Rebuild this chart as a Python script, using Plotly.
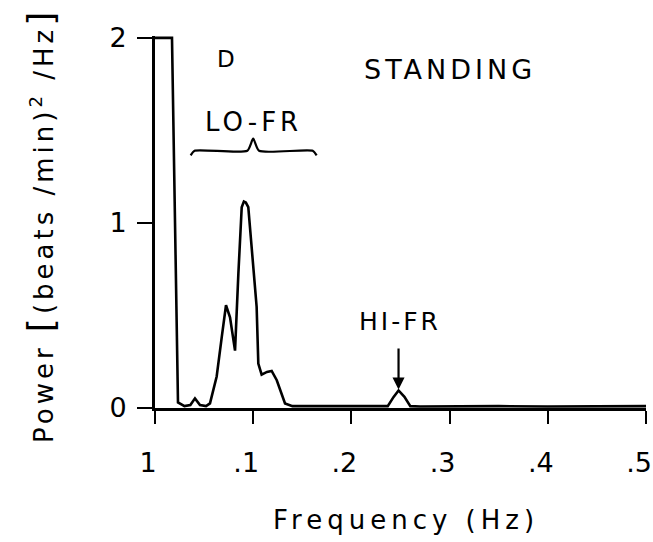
import plotly.graph_objects as go

# Spectrum (frequency in Hz, power in (beats/min)^2/Hz)
freq = [0.0, 0.0173, 0.0234, 0.030, 0.036, 0.0407, 0.0458, 0.052, 0.056, 0.0628,
        0.0679, 0.0723, 0.0764, 0.0815, 0.0849, 0.0883, 0.0905, 0.0925, 0.095,
        0.0984, 0.1035, 0.1052, 0.1086, 0.114, 0.1188, 0.124, 0.1324, 0.14, 0.17,
        0.20, 0.23, 0.237, 0.243, 0.248, 0.254, 0.26, 0.27, 0.30, 0.35, 0.40,
        0.45, 0.50]
power = [2.0, 2.0, 0.03, 0.01, 0.016, 0.052, 0.016, 0.01, 0.025, 0.17,
         0.38, 0.555, 0.49, 0.31, 0.726, 1.085, 1.115, 1.11, 1.085,
         0.85, 0.546, 0.24, 0.18, 0.195, 0.20, 0.15, 0.025, 0.01, 0.01,
         0.008, 0.01, 0.01, 0.06, 0.095, 0.06, 0.01, 0.008, 0.01, 0.01, 0.008,
         0.008, 0.01]

x_tickvals = [0, 0.1, 0.2, 0.3, 0.4, 0.5]
x_ticktext = ["1", ".1", ".2", ".3", ".4", ".5"]
y_tickvals = [0, 1, 2]
y_ticktext = ["0", "1", "2"]

# LO-FR band bracket
lo_left, lo_right, lo_mid = 0.0363, 0.1646, 0.100
brace_y, brace_tip, brace_end = 1.39, 1.455, 1.365

# HI-FR marker
hi_freq = 0.248
hi_label_y = 0.47
hi_arrow_top, hi_arrow_tip = 0.33, 0.10

FONT = "DejaVu Sans"
INK = "black"

fig = go.Figure()

fig.add_trace(go.Scatter(
    x=freq, y=power, mode="lines",
    line=dict(color=INK, width=2.6),
    hoverinfo="skip", showlegend=False,
))

bx = [lo_left, lo_left + 0.004, lo_mid - 0.006, lo_mid, lo_mid + 0.006,
      lo_right - 0.004, lo_right]
by = [brace_end, brace_y, brace_y, brace_tip, brace_y, brace_y, brace_end]
fig.add_trace(go.Scatter(
    x=bx, y=by, mode="lines",
    line=dict(color=INK, width=2.2, shape="spline", smoothing=0.6),
    hoverinfo="skip", showlegend=False,
))

def note(text, x, y, size):
    fig.add_annotation(x=x, y=y, xref="x", yref="y", text=text, showarrow=False,
                       font=dict(family=FONT, size=size, color=INK),
                       xanchor="center", yanchor="middle")

note("D", 0.072, 1.887, 23)
note('<span style="letter-spacing:4px">STANDING</span>', 0.300, 1.83, 27)
note('<span style="letter-spacing:4px">LO-FR</span>', lo_mid, 1.547, 26)
note('<span style="letter-spacing:3px">HI-FR</span>', hi_freq + 0.0015, hi_label_y, 25)

fig.add_annotation(x=hi_freq, y=hi_arrow_tip, ax=hi_freq, ay=hi_arrow_top,
                   xref="x", yref="y", axref="x", ayref="y", text="",
                   showarrow=True, arrowhead=2, arrowsize=1.1, arrowwidth=2.2,
                   arrowcolor=INK)

# axis titles
fig.add_annotation(x=0.5, y=0, xref="paper", yref="paper",
                   text='<span style="letter-spacing:5px">Frequency (Hz)</span>',
                   showarrow=False, yshift=-112, xshift=5,
                   font=dict(family=FONT, size=26, color=INK),
                   xanchor="center", yanchor="middle")
fig.add_annotation(x=0, y=0.5, xref="paper", yref="paper",
                   text='<span style="letter-spacing:4px">Power <span style="font-size:36px">[</span>(beats /min)<sup>2</sup> /Hz<span style="font-size:36px">]</span></span>',
                   showarrow=False, xshift=-115, yshift=-4, textangle=-90,
                   font=dict(family=FONT, size=26, color=INK),
                   xanchor="center", yanchor="middle")

fig.update_layout(
    width=653, height=542,
    margin=dict(l=155, r=7, t=36, b=134, autoexpand=False),
    paper_bgcolor="white", plot_bgcolor="white",
    font=dict(family=FONT, color=INK),
    showlegend=False,
)
fig.update_xaxes(
    range=[0, 0.5], tickvals=x_tickvals, ticktext=x_ticktext,
    showgrid=False, zeroline=False, showline=True, linecolor=INK, linewidth=2.6,
    ticks="outside", ticklen=13, tickwidth=2.4, tickcolor=INK,
    tickfont=dict(family=FONT, size=27, color=INK),
    ticklabelstandoff=16, ticklabelshift=-7, ticklabeloverflow="allow",
    automargin=False,
)
fig.update_yaxes(
    range=[0, 2.01], tickvals=y_tickvals, ticktext=y_ticktext,
    showgrid=False, zeroline=False, showline=True, linecolor=INK, linewidth=2.6,
    ticks="outside", ticklen=15, tickwidth=2.4, tickcolor=INK,
    tickfont=dict(family=FONT, size=27, color=INK),
    ticklabelstandoff=5, automargin=False,
)

# remove the page's default 8 px body margin so the figure fills the window
fig.write_html("out.html",
               config={"displayModeBar": False},
               post_script="document.body.style.margin='0';"
                           "document.body.style.overflow='hidden';")
